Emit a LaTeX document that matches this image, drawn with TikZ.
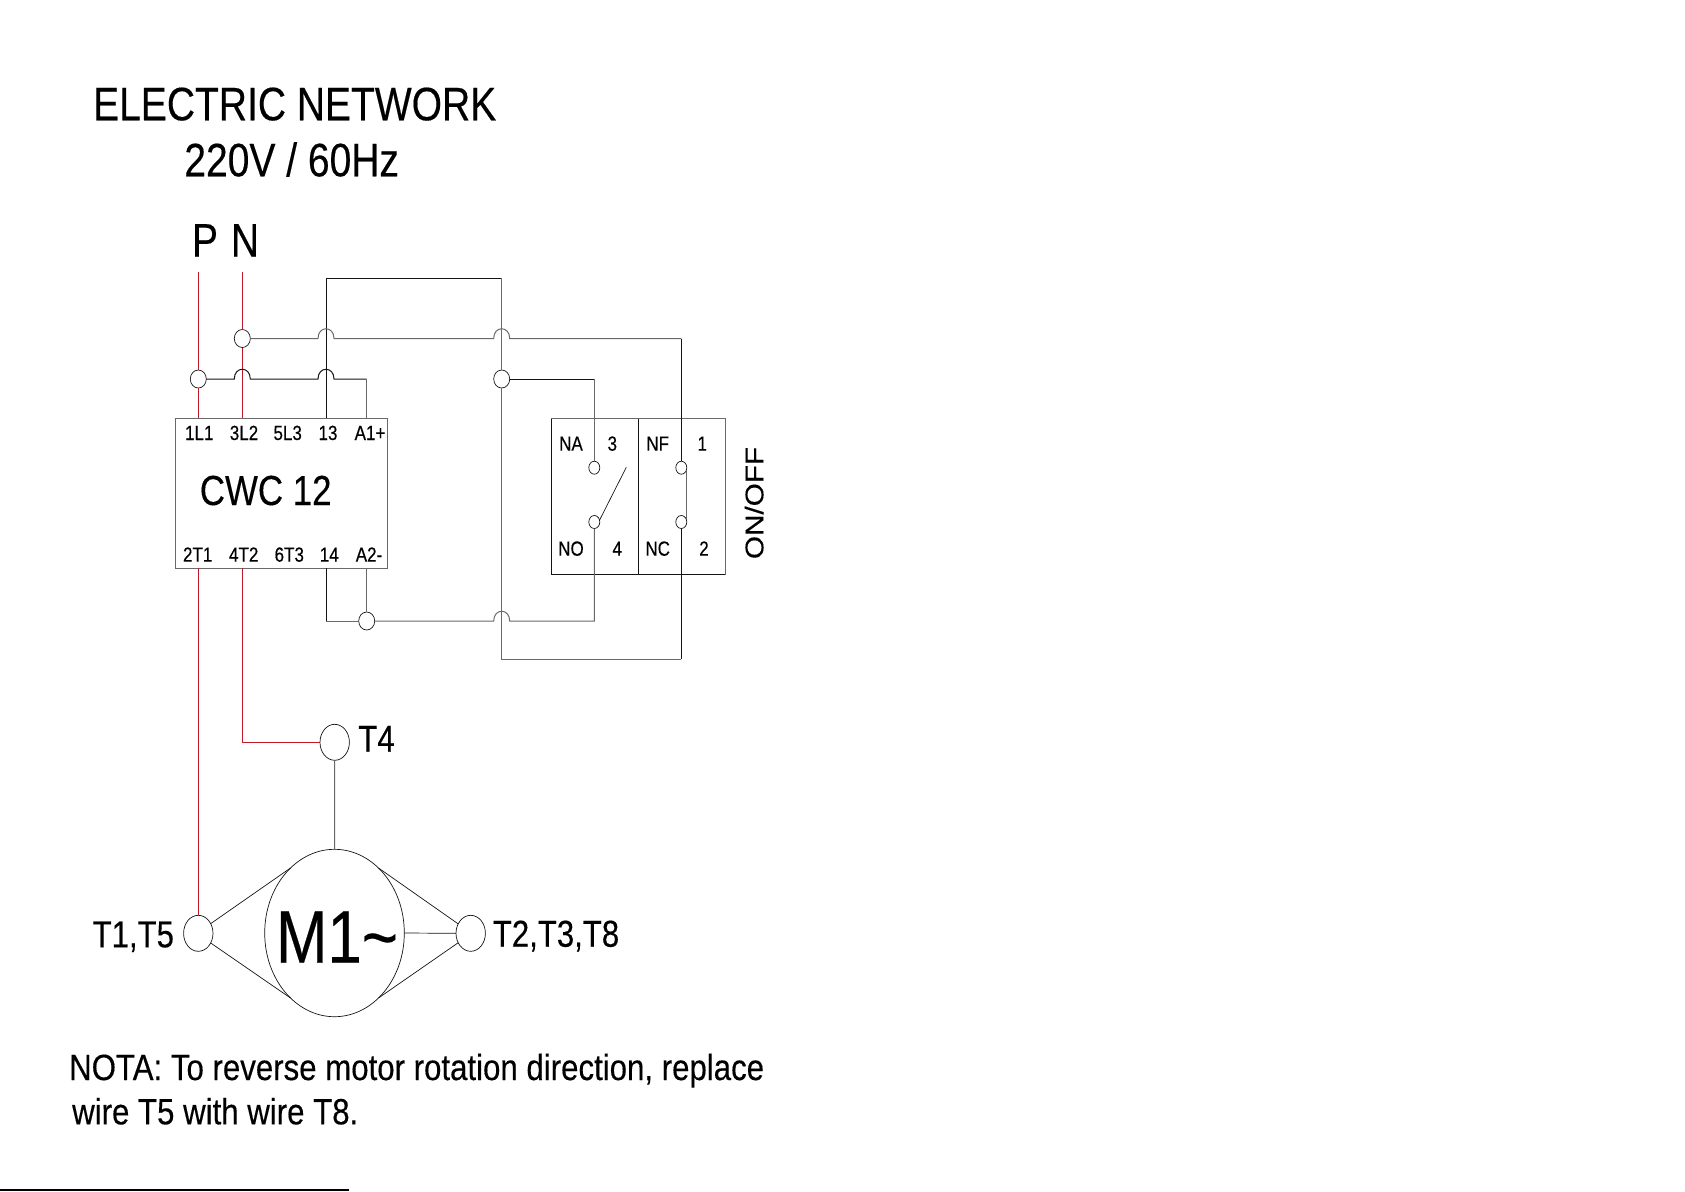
\documentclass[tikz,border=0pt]{standalone}
\usepackage{fontspec}
\setmainfont[FakeStretch=0.83,FakeBold=0.3]{Liberation Sans}
\newfontfamily\uprightFont[FakeStretch=1.16,FakeBold=0.3]{Liberation Sans}
\newfontfamily\noteFont[FakeStretch=0.855,FakeBold=0.3]{Liberation Sans}
\usepackage{tikz}
\usetikzlibrary{positioning,shapes.geometric}
\definecolor{wireGray}{RGB}{105,105,105}
\definecolor{wireDark}{RGB}{20,20,20}
\definecolor{wireRed}{RGB}{190,25,40}
\tikzstyle{sheet} = [x = 1pt, y = -1pt]
\tikzstyle{grayWire} = [color=wireGray, line width=1pt]
\tikzstyle{darkWire} = [color=wireDark, line width=1pt]
\tikzstyle{redWire} = [color=wireRed, line width=1pt]
\tikzstyle{thinWire} = [color=wireDark, line width=.7pt]
\tikzstyle{terminal} = [ellipse, draw=wireDark, fill=white, line width=.7pt, inner sep=0pt, outer sep=0pt, minimum width=16pt, minimum height=18pt]
\tikzstyle{contact} = [terminal, minimum width=11pt, minimum height=13pt]
\tikzstyle{bigTerminal} = [terminal, minimum width=29.4pt, minimum height=36pt]
\tikzstyle{unitBox} = [rectangle, draw=wireGray, line width=1pt, inner sep=0pt, outer sep=0pt]
\tikzstyle{label} = [anchor=base, inner sep=0pt, text=black]
\tikzstyle{pinText} = [label, font=\fontsize{20.5}{20.5}\selectfont]
\tikzstyle{titleText} = [label, font=\fontsize{47}{47}\selectfont]
\tikzstyle{termText} = [label, font=\fontsize{37.5}{37.5}\selectfont]
\tikzstyle{noteText} = [label, anchor=base west, font=\noteFont\fontsize{36.5}{36.5}\selectfont]
\newcommand{\hopAt}[2]{-- (#1-8,#2) .. controls (#1-8,#2-13) and (#1+8,#2-13) .. (#1+8,#2)}
\begin{document}
\begin{tikzpicture}[sheet]
  \useasboundingbox (0,0) rectangle (1685,1191);

  \node [titleText] (titleLine) at (294.7,120.3) {ELECTRIC NETWORK};
  \node [titleText] (voltLine) at (291.7,176.3) {220V / 60Hz};
  \node [titleText] (phaseLabel) at (205,256.5) {P};
  \node [titleText] (neutralLabel) at (245,256.5) {N};

  \node [unitBox, minimum width=212pt, minimum height=150pt] (cwcBox) at (281.7,493) {};
  \node [label, font=\fontsize{42}{42}\selectfont] (cwcLabel) at (265.7,505) {CWC 12};
  \foreach \pinName/\pinX/\pinLabel in {a/199.3/1L1, b/244/3L2, c/287.7/5L3, d/328/13, e/370/A1+} {
    \node [pinText] (top\pinName) at (\pinX,440) {\pinLabel};
  }
  \foreach \pinName/\pinX/\pinLabel in {a/197.7/2T1, b/243.7/4T2, c/289.3/6T3, d/329.3/14, e/369/A2-} {
    \node [pinText] (bottom\pinName) at (\pinX,561.7) {\pinLabel};
  }

  \node [unitBox, minimum width=87pt, minimum height=155.6pt] (naBox) at (594.8,496.5) {};
  \node [unitBox, minimum width=87pt, minimum height=155.6pt] (nfBox) at (681.8,496.5) {};
  \draw [darkWire] (naBox.north west) |- (nfBox.south east);
  \draw [darkWire] (naBox.north east) -- (naBox.south east);
  \foreach \swName/\swX/\swY/\swLabel in {na/571/450.7/NA, three/612.3/450.7/3, nf/657.7/450.7/NF, one/702.3/450.7/1, no/571/555.7/NO, four/617.3/555.7/4, nc/657.7/555.7/NC, two/704/555.7/2} {
    \node [pinText] (\swName Label) at (\swX,\swY) {\swLabel};
  }
  \node [label, rotate=90, font=\uprightFont\fontsize{25.6}{25.6}\selectfont] (onOffLabel) at (763.3,503) {ON/OFF};

  \node [terminal] (phaseNode) at (198.3,379) {};
  \node [terminal] (neutralNode) at (242.3,338.5) {};
  \node [terminal] (switchNode) at (501.7,379) {};
  \node [terminal] (coilNode) at (366.7,621) {};
  \node [contact] (contactThree) at (594.3,467.7) {};
  \node [contact] (contactFour) at (594.3,522) {};
  \node [contact] (contactOne) at (681.3,467.7) {};
  \node [contact] (contactTwo) at (681.3,522) {};

  \node [bigTerminal] (t4Node) at (334.7,742.3) {};
  \node [bigTerminal] (t1Node) at (198.3,933.3) {};
  \node [bigTerminal] (t2Node) at (470.7,933.3) {};
  \node [terminal, minimum width=139.6pt, minimum height=167.4pt] (motorNode) at (334.5,933) {};
  \node [label, font=\fontsize{74.5}{74.5}\selectfont] (motorLabel) at (337,962.7) {M1\textasciitilde};
  \node [termText] (t4Label) at (376.5,751.7) {T4};
  \node [termText] (t1Label) at (133.3,947.3) {T1,T5};
  \node [termText] (t2Label) at (556,946.7) {T2,T3,T8};

  \node [noteText] (noteOne) at (69,1080) {NOTA: To reverse motor rotation direction, replace};
  \node [noteText] (noteTwo) at (72,1124.3) {wire T5 with wire T8.};

  \coordinate (phaseTop) at (198.3,272);
  \coordinate (neutralTop) at (242.3,272);
  \coordinate (jumpLeft) at (326,278);
  \coordinate (jumpRight) at (501.7,278);
  \coordinate (a1Corner) at (366.7,379);
  \coordinate (pinThirteen) at (326,418);
  \coordinate (pinFourteen) at (326,568);
  \coordinate (pinA1) at (366.7,418);
  \coordinate (pinA2) at (366.7,568);
  \coordinate (pinL1) at (198.3,418);
  \coordinate (pinL2) at (242.3,418);
  \coordinate (pinT1) at (198.3,568);
  \coordinate (pinT2) at (242.3,568);
  \coordinate (sharedBottom) at (501.7,659);
  \coordinate (offCorner) at (681.3,659);
  \coordinate (offTop) at (681.3,338.5);
  \coordinate (leftLoop) at (326,621);
  \coordinate (armTip) at (626.3,467.3);

  \draw [redWire] (phaseTop) -- (phaseNode.north);
  \draw [redWire] (phaseNode.south) -- (pinL1);
  \draw [redWire] (neutralTop) -- (neutralNode.north);
  \draw [redWire] (neutralNode.south) -- (pinL2);
  \draw [redWire] (pinT1) -- (t1Node.north);
  \draw [redWire] (pinT2) |- (t4Node.west);

  \draw [darkWire] (pinThirteen) -- (jumpLeft) -- (jumpRight);
  \draw [grayWire] (jumpRight) -- (switchNode.north);
  \draw [grayWire] (switchNode.south) -- (sharedBottom) -- (offCorner);
  \draw [darkWire] (offCorner) -- (contactTwo.south);
  \draw [grayWire] (neutralNode.east) \hopAt{326}{338.5} \hopAt{501.7}{338.5} -- (offTop);
  \draw [darkWire] (offTop) -- (contactOne.north);
  \draw [darkWire] (phaseNode.east) \hopAt{242.3}{379} \hopAt{326}{379} -- (a1Corner);
  \draw [grayWire] (a1Corner) -- (pinA1);
  \draw [darkWire] (switchNode.east) -- (contactThree.north |- switchNode.east);
  \draw [grayWire] (contactThree.north |- switchNode.east) -- (contactThree.north);
  \draw [grayWire] (coilNode.east) \hopAt{501.7}{621} -- (contactFour.south |- coilNode.east) -- (contactFour.south);
  \draw [grayWire] (coilNode.west) -- (leftLoop);
  \draw [darkWire] (leftLoop) -- (pinFourteen);
  \draw [grayWire] (coilNode.north) -- (pinA2);
  \draw [thinWire] (contactFour.20) -- (armTip);
  \draw [grayWire] (contactOne.-30) -- (contactTwo.30);

  \draw [grayWire] (t4Node.south) -- (motorNode.north);
  \draw [thinWire] (t1Node.38) -- (motorNode.124);
  \draw [thinWire] (t1Node.-38) -- (motorNode.236);
  \draw [thinWire] (t2Node.143) -- (motorNode.56);
  \draw [thinWire] (t2Node.217) -- (motorNode.304);
  \draw [thinWire] (motorNode.east) -- (t2Node.west);

  \coordinate (ruleStart) at (0,1190.2);
  \coordinate (ruleEnd) at (349.3,1190.2);
  \draw [color=black, line width=1.5pt] (ruleStart) -- (ruleEnd);
\end{tikzpicture}
\end{document}
